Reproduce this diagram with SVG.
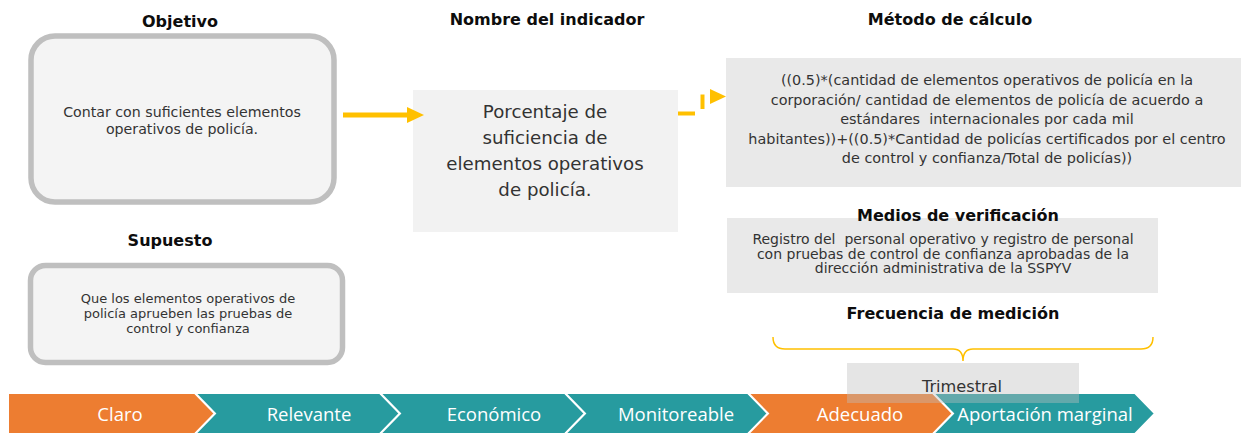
<svg xmlns="http://www.w3.org/2000/svg" width="1241" height="434" viewBox="0 0 1241 434">
<style>
.hdr{font-family:"DejaVu Sans","Liberation Sans",sans-serif;font-weight:bold;font-size:16px;fill:#0d0d0d;text-anchor:middle}
.body{font-family:"DejaVu Sans","Liberation Sans",sans-serif;fill:#333;text-anchor:middle}
.rbox{fill:#f4f4f4;stroke:#bfbfbf;stroke-width:5.5}
.gbox{fill:#e9e9e9}
.chev{stroke:#fff;stroke-width:2}
.org{fill:#ed7d31}
.teal{fill:#279b9f}
.ctext{font-family:"Open Sans","Liberation Sans",sans-serif;font-size:18.5px;fill:#fff;text-anchor:middle}
.conn{stroke:#ffc000;fill:none}
</style>
<rect width="1241" height="434" fill="#fff"/>

<g id="objetivo">
<text class="hdr" x="180" y="27">Objetivo</text>
<rect class="rbox" x="31" y="36" width="303" height="166" rx="24"/>
<text class="body" font-size="14.2" x="182" y="117">Contar con suficientes elementos</text>
<text class="body" font-size="14.2" x="182" y="134">operativos de policía.</text>
</g>

<g id="supuesto">
<text class="hdr" x="170" y="246">Supuesto</text>
<rect class="rbox" x="30.5" y="265.5" width="312" height="97" rx="15"/>
<text class="body" font-size="13" x="188" y="303">Que los elementos operativos de</text>
<text class="body" font-size="13" x="188" y="318">policía aprueben las pruebas de</text>
<text class="body" font-size="13" x="188" y="333">control y confianza</text>
</g>

<g id="indicador">
<text class="hdr" x="547" y="25">Nombre del indicador</text>
<rect x="413" y="90" width="265" height="142" fill="#f2f2f2"/>
<text class="body" font-size="18.2" x="545" y="118">Porcentaje de</text>
<text class="body" font-size="18.2" x="545" y="144">suficiencia de</text>
<text class="body" font-size="18.2" x="545" y="170">elementos operativos</text>
<text class="body" font-size="18.2" x="545" y="196">de policía.</text>
</g>

<g id="metodo">
<text class="hdr" x="950" y="25">Método de cálculo</text>
<rect class="gbox" x="726" y="58" width="515" height="129"/>
<text class="body" font-size="14.4" x="987" y="85">((0.5)*(cantidad de elementos operativos de policía en la</text>
<text class="body" font-size="14.4" x="987" y="104.6">corporación/ cantidad de elementos de policía de acuerdo a</text>
<text class="body" font-size="14.4" x="987" y="124.2" xml:space="preserve">estándares  internacionales por cada mil</text>
<text class="body" font-size="14.4" x="987" y="143.8">habitantes))+((0.5)*Cantidad de policías certificados por el centro</text>
<text class="body" font-size="14.4" x="987" y="163.4">de control y confianza/Total de policías))</text>
</g>

<g id="medios">
<rect class="gbox" x="727" y="218" width="431" height="75"/>
<text class="hdr" x="958" y="221">Medios de verificación</text>
<text class="body" font-size="14" x="943" y="244" xml:space="preserve">Registro del  personal operativo y registro de personal</text>
<text class="body" font-size="14" x="943" y="258.5">con pruebas de control de confianza aprobadas de la</text>
<text class="body" font-size="14" x="943" y="273">dirección administrativa de la SSPYV</text>
</g>

<g id="frecuencia">
<text class="hdr" font-size="16.5" x="953" y="319">Frecuencia de medición</text>
<path class="conn" stroke-width="1.5" d="M773,337 Q773,349 785,349 H953 Q963,349 963,361 Q963,349 973,349 H1141 Q1153,349 1153,337"/>
</g>

<g id="chevrones">
<path class="chev org" d="M8,393 H195 L215,413.5 L195,434 H8 Z"/>
<path class="chev teal" d="M195,393 H380 L400,413.5 L380,434 H195 L215,413.5 Z"/>
<path class="chev teal" d="M380,393 H565 L585,413.5 L565,434 H380 L400,413.5 Z"/>
<path class="chev teal" d="M565,393 H748 L768,413.5 L748,434 H565 L585,413.5 Z"/>
<path class="chev org" d="M748,393 H933 L953,413.5 L933,434 H748 L768,413.5 Z"/>
<path class="chev teal" d="M933,393 H1135 L1155,413.5 L1135,434 H933 L953,413.5 Z"/>
<text class="ctext" x="120" y="421">Claro</text>
<text class="ctext" x="309" y="421">Relevante</text>
<text class="ctext" x="494" y="421">Económico</text>
<text class="ctext" x="676" y="421">Monitoreable</text>
<text class="ctext" x="860" y="421">Adecuado</text>
<text class="ctext" x="1045" y="421">Aportación marginal</text>
</g>

<g id="trimestral">
<rect x="847" y="363" width="232" height="40" fill="#bfbfbf" fill-opacity="0.4"/>
<text class="body" font-size="16.2" fill="#404040" x="962" y="392">Trimestral</text>
</g>

<g id="connectors">
<line class="conn" stroke-width="5" x1="343" y1="115" x2="410" y2="115"/>
<polygon points="407,107 424,115 407,123" fill="#ffc000"/>
<line class="conn" stroke-width="4" x1="678" y1="113.5" x2="695" y2="113.5"/>
<line class="conn" stroke-width="4" x1="702.5" y1="109" x2="702.5" y2="94.5"/>
<polygon points="710,89 726,96.5 710,104" fill="#ffc000"/>
</g>
</svg>
